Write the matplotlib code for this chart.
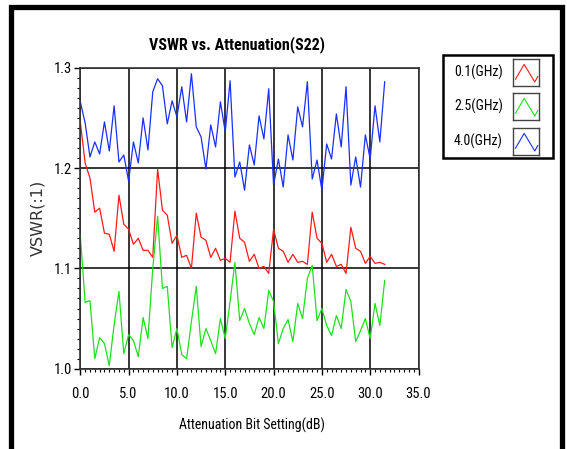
import numpy as np
import matplotlib
matplotlib.use('Agg')
import matplotlib.pyplot as plt
from matplotlib.patches import Rectangle
from matplotlib.ticker import MultipleLocator, FormatStrFormatter

plt.rcParams['font.family'] = ['DejaVu Sans Condensed', 'Liberation Sans Narrow', 'Roboto Condensed',
                               'Liberation Sans', 'DejaVu Sans']

# attenuation setting (dB), 0.5 dB steps
atten = np.arange(0, 32, 0.5)

vswr_01 = [1.246, 1.205, 1.190, 1.156, 1.160, 1.135, 1.134, 1.117, 1.173, 1.144,
           1.139, 1.124, 1.130, 1.118, 1.118, 1.111, 1.199, 1.158, 1.153, 1.125,
           1.133, 1.111, 1.113, 1.100, 1.155, 1.131, 1.128, 1.111, 1.120, 1.108,
           1.110, 1.106, 1.157, 1.130, 1.126, 1.107, 1.114, 1.100, 1.102, 1.095,
           1.139, 1.120, 1.117, 1.106, 1.114, 1.106, 1.107, 1.104, 1.156, 1.130,
           1.125, 1.106, 1.114, 1.102, 1.104, 1.095, 1.141, 1.120, 1.117, 1.105,
           1.112, 1.105, 1.106, 1.104]

vswr_25 = [1.133, 1.066, 1.068, 1.010, 1.031, 1.025, 1.003, 1.044, 1.077, 1.015,
           1.034, 1.028, 1.012, 1.051, 1.030, 1.100, 1.152, 1.080, 1.082, 1.021,
           1.040, 1.014, 1.010, 1.047, 1.082, 1.022, 1.040, 1.028, 1.015, 1.050,
           1.030, 1.067, 1.106, 1.048, 1.060, 1.045, 1.034, 1.051, 1.040, 1.078,
           1.067, 1.025, 1.040, 1.049, 1.027, 1.065, 1.050, 1.090, 1.103, 1.048,
           1.060, 1.043, 1.033, 1.053, 1.040, 1.079, 1.067, 1.027, 1.038, 1.050,
           1.030, 1.065, 1.043, 1.088]

vswr_40 = [1.266, 1.245, 1.211, 1.226, 1.214, 1.246, 1.217, 1.262, 1.206, 1.213,
           1.187, 1.226, 1.205, 1.250, 1.218, 1.276, 1.289, 1.282, 1.244, 1.267,
           1.251, 1.281, 1.246, 1.294, 1.241, 1.231, 1.199, 1.243, 1.221, 1.266,
           1.236, 1.287, 1.191, 1.206, 1.178, 1.223, 1.203, 1.252, 1.229, 1.279,
           1.183, 1.209, 1.181, 1.233, 1.208, 1.261, 1.241, 1.286, 1.189, 1.208,
           1.178, 1.224, 1.209, 1.254, 1.221, 1.281, 1.183, 1.211, 1.181, 1.233,
           1.209, 1.262, 1.226, 1.286]

labels = ['0.1(GHz)', '2.5(GHz)', '4.0(GHz)']
colors = ['#ff1a1a', '#1ee01e', '#1a2eff']

W, H = 567, 449
fig = plt.figure(figsize=(W/100, H/100), dpi=100)

def fx(px): return px/W
def fy(py): return 1 - py/H

# outer frame (bottom edge falls outside the picture)
fig.patches.append(Rectangle((fx(10.5), fy(470)), fx(551.5), 470/H - 7.5/H, transform=fig.transFigure,
                             fill=False, edgecolor='black', linewidth=3.8, zorder=0))

ax = fig.add_axes([fx(80.3), fy(368.7), fx(338.2), 301/H])
for v, c in zip([vswr_01, vswr_25, vswr_40], colors):
    ax.plot(atten, v, color=c, linewidth=0.9)

ax.set_xlim(0, 35)
ax.set_ylim(1.0, 1.3)
ax.xaxis.set_major_locator(MultipleLocator(5))
ax.xaxis.set_minor_locator(MultipleLocator(0.5))
ax.yaxis.set_major_locator(MultipleLocator(0.1))
ax.yaxis.set_minor_locator(MultipleLocator(0.01))
ax.xaxis.set_major_formatter(FormatStrFormatter('%.1f'))
ax.yaxis.set_major_formatter(FormatStrFormatter('%.1f'))
ax.tick_params(which='major', direction='out', length=4, width=1, labelsize=10.5, colors='black')
ax.tick_params(which='minor', direction='out', length=2.5, width=0.8)
ax.tick_params(axis='x', pad=9.5)
ax.tick_params(axis='y', pad=2)
ax.grid(True, which='major', color='black', linewidth=1.1)
for s in ax.spines.values():
    s.set_linewidth(1.2)
    s.set_color('#333333')

ax.set_ylabel('VSWR(:1)', fontsize=11.5, family=['DejaVu Sans'], color='#333333')
ax.yaxis.set_label_coords(-0.104, 0.5)
fig.text(fx(251.5), fy(425), 'Attenuation Bit Setting(dB)', ha='center', va='center', fontsize=10)
fig.text(fx(237), fy(45), 'VSWR vs. Attenuation(S22)', ha='center', va='center',
         fontsize=11.5, fontweight='bold')

# legend box
fig.patches.append(Rectangle((fx(443), fy(158)), fx(110), 103/H, transform=fig.transFigure,
                             fill=False, edgecolor='black', linewidth=1.8))
sw_top = [59, 93, 128]
for lab, c, t in zip(labels, colors, sw_top):
    fig.text(fx(503), fy(t + 13), lab, ha='right', va='center', fontsize=10)
    sa = fig.add_axes([fx(513), fy(t + 27), fx(26), 27/H])
    sa.plot([0.1, 0.45, 0.88, 1.0], [0.25, 0.8, 0.15, 0.35], color=c, linewidth=0.8)
    sa.set_xlim(0, 1.05)
    sa.set_ylim(0, 1)
    sa.set_xticks([])
    sa.set_yticks([])
    for s in sa.spines.values():
        s.set_color('#444444')
        s.set_linewidth(1.0)

fig.savefig('out.png', dpi=100)
